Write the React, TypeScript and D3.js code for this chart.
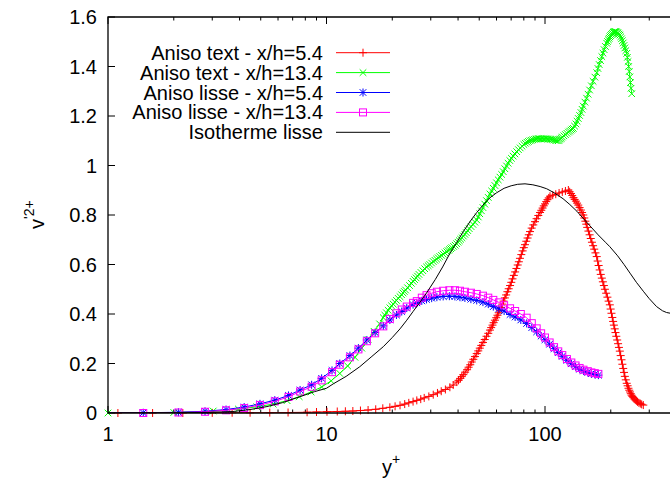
import React from "react";
import * as d3 from "d3";

// ---- Data (y+, v'2+) ----
const redYp = [1.11, 1.6, 2.2, 3.0, 3.7, 4.47, 5.5, 6.67, 8.15, 9.0, 10.05, 11.2, 12.2, 13.2, 14.3, 15.5, 16.8, 18.1, 19.5, 20.6, 21.7, 22.8, 23.8, 24.9, 25.9, 27.0, 28.0, 29.4, 30.8, 32.2, 33.5, 35.0, 36.7, 38.0,
  39.5, 40.2, 41.0, 41.6, 42.3, 43.1, 44.0, 44.7, 45.5, 46.2, 47.0, 47.8, 48.7, 49.5, 50.3, 51.1, 52.0, 53.0, 54.0, 55.0, 56.0, 56.7, 57.5, 58.2, 59.0, 59.8, 60.6, 61.4, 62.2, 63.0, 63.8, 64.6, 65.5, 66.4, 67.3, 68.2, 69.2, 70.1, 71.0, 72.0, 73.0, 74.0, 75.0, 75.9, 76.8, 77.9, 79.0, 80.0, 81.0, 82.1, 83.2, 84.3, 85.4, 86.9, 88.4, 90.0, 91.5, 93.2, 94.9, 96.2, 97.5, 98.7, 100.0, 101.3, 102.7, 104.0, 105.4, 108.5, 112.0, 116.0, 120.0, 124.0, 127.9, 129.7, 131.5, 133.2, 135.0, 136.7, 138.5, 140.2, 142.0, 144.0, 146.0, 147.8, 149.7, 151.3, 153.0, 154.5, 156.0, 158.0, 160.0, 162.0, 164.0, 166.0, 168.0, 170.2, 172.5, 174.2, 176.0, 178.0, 180.0, 182.0, 184.0, 186.0, 188.0, 190.5, 193.0, 195.5, 198.0, 199.7, 201.5, 203.2, 205.0, 206.7, 208.5, 210.2, 212.0, 214.0, 216.0, 218.0, 220.0, 222.0, 224.0, 226.0, 228.0, 230.0, 232.0, 234.3, 236.6, 238.8, 241.0, 243.0, 245.0, 247.0, 249.0, 251.2, 253.5, 256.2, 259.0, 262.0, 265.0, 269.0, 273.0, 277.0, 281.8];
const redV = [0.0, 0.0, 0.0, 0.0005, 0.001, 0.001, 0.0015, 0.002, 0.003, 0.004, 0.005, 0.006, 0.007, 0.008, 0.01, 0.012, 0.015, 0.019, 0.023, 0.027, 0.031, 0.036, 0.041, 0.046, 0.051, 0.056, 0.061, 0.067, 0.074, 0.081, 0.088, 0.095, 0.104, 0.113,
  0.125, 0.132, 0.14, 0.147, 0.155, 0.165, 0.175, 0.185, 0.195, 0.206, 0.217, 0.228, 0.24, 0.251, 0.262, 0.273, 0.285, 0.297, 0.31, 0.322, 0.335, 0.345, 0.355, 0.365, 0.375, 0.385, 0.395, 0.405, 0.415, 0.427, 0.44, 0.452, 0.465, 0.477, 0.49, 0.502, 0.515, 0.528, 0.542, 0.556, 0.57, 0.584, 0.598, 0.611, 0.625, 0.64, 0.655, 0.668, 0.68, 0.694, 0.707, 0.72, 0.733, 0.747, 0.76, 0.773, 0.785, 0.798, 0.81, 0.819, 0.828, 0.837, 0.845, 0.854, 0.862, 0.869, 0.876, 0.88, 0.884, 0.889, 0.893, 0.897, 0.901, 0.894, 0.887, 0.879, 0.87, 0.863, 0.856, 0.848, 0.84, 0.83, 0.82, 0.81, 0.8, 0.788, 0.775, 0.763, 0.75, 0.735, 0.72, 0.705, 0.69, 0.676, 0.662, 0.647, 0.632, 0.614, 0.596, 0.578, 0.56, 0.545, 0.53, 0.515, 0.5, 0.484, 0.468, 0.452, 0.437, 0.42, 0.403, 0.386, 0.37, 0.355, 0.34, 0.325, 0.31, 0.295, 0.28, 0.265, 0.25, 0.232, 0.215, 0.197, 0.18, 0.164, 0.148, 0.134, 0.12, 0.11, 0.1, 0.092, 0.085, 0.078, 0.072, 0.067, 0.062, 0.057, 0.053, 0.049, 0.045, 0.041, 0.038, 0.035, 0.032];

const greenYp = [1.0, 2.0, 3.03, 3.95, 4.8, 5.7, 6.6, 7.5, 8.5, 9.5, 10.5, 11.5, 12.5, 13.5, 14.5, 15.5, 16.5, 17.5,
  18.2, 18.5, 18.8, 19.15, 19.5, 19.85, 20.2, 20.55, 20.9, 21.3, 21.7, 22.05, 22.4, 22.7, 23.0, 23.5, 24.0, 24.45, 24.9, 25.3, 25.7, 26.1, 26.5, 27.05, 27.6, 28.15, 28.7, 29.2, 29.7, 30.25, 30.8, 31.35, 31.9, 32.45, 33.0, 33.6, 34.2, 34.85, 35.5, 36.0, 36.5, 37.0, 37.5, 38.15, 38.8, 39.4, 40.0, 40.55, 41.1, 41.7, 42.3, 42.95, 43.6, 44.3, 45.0, 45.9, 46.8, 47.75, 48.7, 49.5, 50.3, 51.15, 52.0, 53.0, 54.0, 55.0, 56.0, 57.0, 58.0, 59.0, 60.0, 61.1, 62.2, 63.3, 64.4, 65.5, 66.7, 67.8, 69.0, 70.2, 71.5, 72.8, 74.2, 75.6, 77.0, 78.5, 80.0, 81.3, 82.7, 84.0, 85.4, 86.7, 88.0, 89.5, 91.0, 92.2, 93.5, 94.7, 96.0, 97.5, 99.0, 100.4, 101.8, 103.4, 105.0, 106.5, 108.0, 109.7, 111.5, 113.2, 115.0, 116.2, 117.5, 118.7, 120.0, 122.0, 124.0, 126.0, 128.0, 129.7, 131.5, 133.1, 134.8, 136.6, 138.5, 140.2, 142.0, 144.0, 146.0, 147.8, 149.7, 152.3, 155.0, 157.5, 160.0, 163.0, 166.0, 169.2, 172.5, 174.7, 177.0, 179.5, 182.0, 184.2, 186.5, 189.0, 191.6, 193.3, 195.0, 196.5, 198.0, 199.7, 201.5, 203.5, 205.4, 207.0, 208.5, 210.2, 212.0, 214.0, 216.0, 218.2, 220.4, 222.2, 224.0, 226.0, 228.0, 230.0, 232.0, 234.3, 236.6, 238.3, 240.0, 241.5, 243.0, 244.5, 246.0, 247.7, 249.4];
const greenV = [0.0, 0.002, 0.008, 0.016, 0.025, 0.036, 0.05, 0.066, 0.085, 0.105, 0.13, 0.16, 0.19, 0.225, 0.262, 0.297, 0.33, 0.36,
  0.385, 0.395, 0.405, 0.415, 0.425, 0.433, 0.44, 0.448, 0.455, 0.463, 0.47, 0.478, 0.485, 0.491, 0.497, 0.506, 0.515, 0.524, 0.532, 0.539, 0.546, 0.553, 0.56, 0.568, 0.575, 0.583, 0.59, 0.595, 0.6, 0.606, 0.612, 0.617, 0.622, 0.627, 0.632, 0.637, 0.642, 0.647, 0.652, 0.656, 0.66, 0.664, 0.668, 0.673, 0.678, 0.684, 0.69, 0.696, 0.702, 0.708, 0.715, 0.722, 0.729, 0.737, 0.745, 0.753, 0.762, 0.771, 0.78, 0.792, 0.805, 0.817, 0.83, 0.844, 0.858, 0.871, 0.885, 0.897, 0.908, 0.919, 0.93, 0.942, 0.953, 0.964, 0.975, 0.987, 0.998, 1.009, 1.02, 1.029, 1.038, 1.047, 1.056, 1.064, 1.071, 1.078, 1.085, 1.09, 1.094, 1.097, 1.1, 1.102, 1.104, 1.106, 1.107, 1.108, 1.108, 1.108, 1.108, 1.108, 1.108, 1.108, 1.108, 1.107, 1.107, 1.106, 1.105, 1.103, 1.102, 1.101, 1.1, 1.104, 1.107, 1.111, 1.115, 1.12, 1.125, 1.13, 1.135, 1.139, 1.143, 1.147, 1.15, 1.159, 1.168, 1.179, 1.19, 1.202, 1.214, 1.227, 1.24, 1.256, 1.272, 1.288, 1.305, 1.322, 1.34, 1.357, 1.375, 1.392, 1.408, 1.424, 1.44, 1.454, 1.468, 1.481, 1.494, 1.501, 1.508, 1.514, 1.52, 1.525, 1.53, 1.534, 1.538, 1.54, 1.541, 1.541, 1.54, 1.538, 1.535, 1.531, 1.527, 1.52, 1.512, 1.504, 1.495, 1.485, 1.475, 1.464, 1.453, 1.437, 1.42, 1.4, 1.38, 1.358, 1.335, 1.312, 1.29];

const blueYp = [0.72, 1.45, 2.1, 2.78, 3.47, 4.2, 4.96, 5.8, 6.7, 7.57, 8.55, 9.5, 10.6, 11.5, 12.8, 14.0, 15.3, 16.7, 18.2, 19.5, 20.9, 22.1, 23.3, 24.9, 25.9, 27.3, 28.7, 30.3, 32.0, 34.2, 36.5, 38.7, 40.8, 43.0, 45.8, 48.7, 52.0, 55.0, 58.0, 61.5, 65.0, 69.2, 73.0, 77.5, 82.4, 87.0, 91.6, 96.0, 100.0, 105.0, 110.0, 115.0, 120.0, 126.0, 132.0, 138.0, 144.0, 150.0, 157.0, 163.0, 169.0, 175.5];
const blueV = [0.0, 0.001, 0.003, 0.007, 0.014, 0.024, 0.037, 0.052, 0.071, 0.093, 0.114, 0.14, 0.172, 0.2, 0.232, 0.262, 0.295, 0.325, 0.352, 0.376, 0.396, 0.41, 0.424, 0.438, 0.445, 0.453, 0.459, 0.464, 0.468, 0.471, 0.472, 0.471, 0.468, 0.465, 0.46, 0.455, 0.448, 0.44, 0.43, 0.421, 0.412, 0.398, 0.388, 0.376, 0.362, 0.345, 0.328, 0.311, 0.296, 0.278, 0.26, 0.244, 0.229, 0.213, 0.199, 0.187, 0.177, 0.17, 0.164, 0.159, 0.156, 0.153];

const magentaYp = [0.72, 1.45, 2.1, 2.78, 3.47, 4.2, 4.96, 5.8, 6.7, 7.57, 8.55, 9.5, 10.6, 11.5, 12.8, 14.0, 15.3, 16.7, 18.2, 19.5, 20.9, 22.1, 23.3, 24.9, 25.9, 27.3, 28.7, 30.3, 32.0, 34.2, 36.5, 38.7, 40.8, 43.0, 45.8, 48.7, 52.0, 55.0, 58.0, 61.5, 65.0, 69.2, 73.0, 77.5, 82.4, 87.0, 91.6, 96.0, 100.0, 105.0, 110.0, 115.0, 120.0, 126.0, 132.0, 138.0, 144.0, 150.0, 157.0, 163.0, 169.0, 175.5];
const magentaV = [0.0, 0.0, 0.002, 0.005, 0.011, 0.02, 0.032, 0.047, 0.065, 0.087, 0.106, 0.132, 0.165, 0.195, 0.225, 0.257, 0.29, 0.322, 0.35, 0.38, 0.403, 0.418, 0.43, 0.445, 0.452, 0.466, 0.476, 0.484, 0.49, 0.494, 0.496, 0.496, 0.494, 0.49, 0.486, 0.481, 0.474, 0.466, 0.457, 0.447, 0.435, 0.423, 0.412, 0.4, 0.385, 0.363, 0.342, 0.322, 0.305, 0.285, 0.266, 0.249, 0.234, 0.218, 0.204, 0.192, 0.182, 0.175, 0.169, 0.164, 0.161, 0.158];

const blackYp = [0.8, 1.0, 1.5, 2.0, 2.5, 3.0, 3.73, 4.47, 5.34, 6.3, 7.57, 8.8, 10.0, 10.75, 12.3, 14.2, 16.0, 18.2, 20.0, 21.7, 23.3, 24.9, 26.8, 28.7, 31.5, 34.0, 36.7, 39.5, 42.2, 45.5, 48.7, 52.0, 56.0, 60.1, 65.0, 70.0, 75.0, 81.0, 88.0, 95.0, 101.8, 110.0, 120.9, 130.0, 140.0, 149.0, 160.7, 175.0, 190.0, 198.0, 215.0, 230.0, 245.0, 262.0, 281.8, 300.0, 324.0, 345.0, 360.0, 380.0, 400.0, 430.0];
const blackV = [0.0, 0.0, 0.0005, 0.001, 0.002, 0.003, 0.006, 0.014, 0.026, 0.042, 0.066, 0.086, 0.1, 0.118, 0.148, 0.187, 0.226, 0.268, 0.305, 0.34, 0.375, 0.41, 0.448, 0.485, 0.54, 0.59, 0.645, 0.69, 0.732, 0.775, 0.81, 0.84, 0.87, 0.89, 0.908, 0.918, 0.924, 0.926, 0.922, 0.915, 0.906, 0.89, 0.866, 0.842, 0.815, 0.788, 0.756, 0.72, 0.688, 0.672, 0.635, 0.6, 0.565, 0.528, 0.492, 0.462, 0.43, 0.413, 0.406, 0.402, 0.401, 0.402];

const yTicks = [0, 0.2, 0.4, 0.6, 0.8, 1.0, 1.2, 1.4, 1.6];
const xMajorTicks = [1, 10, 100, 1000];
const xTickLabels = ["1", "10", "100", ""];
const legendLabels = [
  "Aniso text - x/h=5.4",
  "Aniso text - x/h=13.4",
  "Aniso lisse - x/h=5.4",
  "Aniso lisse - x/h=13.4",
  "Isotherme lisse",
];

type Series = { xs: number[]; ys: number[]; color: string; marker: string | null };
const series: Series[] = [
  { xs: redYp, ys: redV, color: "#ff0000", marker: "plus" },
  { xs: greenYp, ys: greenV, color: "#00ff00", marker: "cross" },
  { xs: blueYp, ys: blueV, color: "#0000ff", marker: "star" },
  { xs: magentaYp, ys: magentaV, color: "#ff00ff", marker: "square" },
  { xs: blackYp, ys: blackV, color: "#000000", marker: null },
];

const W = 670;
const H = 479;
const L = 108;
const T = 17;
const B = 413;
const R = 763.5;
const FONT = "'Liberation Sans', Arial, Helvetica, sans-serif";

function Marker({ kind, x, y, color }: { kind: string; x: number; y: number; color: string }) {
  const s = 4;
  const c = 3.3;
  if (kind === "plus") {
    return <path d={`M${x - s},${y}H${x + s}M${x},${y - s}V${y + s}`} stroke={color} strokeWidth={1} fill="none" />;
  }
  if (kind === "cross") {
    return <path d={`M${x - c},${y - c}L${x + c},${y + c}M${x - c},${y + c}L${x + c},${y - c}`} stroke={color} strokeWidth={1} fill="none" />;
  }
  if (kind === "star") {
    return (
      <path
        d={`M${x - s},${y}H${x + s}M${x},${y - s}V${y + s}M${x - c},${y - c}L${x + c},${y + c}M${x - c},${y + c}L${x + c},${y - c}`}
        stroke={color}
        strokeWidth={1}
        fill="none"
      />
    );
  }
  return <rect x={x - 3.5} y={y - 3.5} width={7} height={7} stroke={color} strokeWidth={1} fill="none" />;
}

export default function App() {
  const x = d3.scaleLog().domain([1, 1000]).range([L, R]);
  const y = d3.scaleLinear().domain([0, 1.6]).range([B, T]);
  const line = d3
    .line<[number, number]>()
    .x((d) => x(d[0]))
    .y((d) => y(d[1]));

  const minorTicks: number[] = [];
  [1, 10, 100].forEach((dec) => {
    for (let k = 2; k <= 9; k++) minorTicks.push(dec * k);
  });

  const legendX1 = 336;
  const legendX2 = 390;
  const legendY0 = 52.7;
  const legendDy = 19.9;

  return (
    <svg width={W} height={H} style={{ position: "absolute", left: 0, top: 0, background: "#fff" }} fontFamily={FONT}>
      <defs>
        <clipPath id="plotClip">
          <rect x={L} y={T} width={R - L} height={B - T} />
        </clipPath>
      </defs>
      <rect x={0} y={0} width={W} height={H} fill="#fff" />

      {/* ticks */}
      {yTicks.map((t) => (
        <g key={"yt" + t}>
          <line x1={L} x2={L + 7} y1={y(t)} y2={y(t)} stroke="#000" strokeWidth={1} />
          <text x={97} y={y(t)} dy="0.35em" textAnchor="end" fontSize={20}>
            {String(+t.toFixed(1))}
          </text>
        </g>
      ))}
      {xMajorTicks.map((t, i) => (
        <g key={"xt" + t}>
          <line x1={x(t)} x2={x(t)} y1={B} y2={B - 7} stroke="#000" strokeWidth={1} />
          <line x1={x(t)} x2={x(t)} y1={T} y2={T + 7} stroke="#000" strokeWidth={1} />
          {xTickLabels[i] && (
            <text x={x(t)} y={434} dy="0.35em" textAnchor="middle" fontSize={20}>
              {xTickLabels[i]}
            </text>
          )}
        </g>
      ))}
      {minorTicks.map((t) => (
        <g key={"xm" + t}>
          <line x1={x(t)} x2={x(t)} y1={B} y2={B - 3.5} stroke="#000" strokeWidth={1} />
          <line x1={x(t)} x2={x(t)} y1={T} y2={T + 3.5} stroke="#000" strokeWidth={1} />
        </g>
      ))}

      {/* series */}
      {series.map((s, si) => {
        const pts: [number, number][] = s.xs.map((v, i) => [v, s.ys[i]]);
        return (
          <g key={"s" + si}>
            <path d={line(pts) || ""} stroke={s.color} strokeWidth={1} fill="none" clipPath="url(#plotClip)" />
            {s.marker &&
              pts
                .filter((p) => p[0] >= 1)
                .map((p, i) => <Marker key={i} kind={s.marker as string} x={x(p[0])} y={y(p[1])} color={s.color} />)}
          </g>
        );
      })}

      {/* border */}
      <path d={`M${R},${T}H${L}V${B}H${R}`} stroke="#000" strokeWidth={1.3} fill="none" />

      {/* legend */}
      {legendLabels.map((lab, i) => {
        const ly = legendY0 + i * legendDy;
        const s = series[i];
        return (
          <g key={"lg" + i}>
            <text x={323} y={ly} dy="0.35em" textAnchor="end" fontSize={20}>
              {lab}
            </text>
            <line x1={legendX1} x2={legendX2} y1={ly} y2={ly} stroke={s.color} strokeWidth={1} />
            {s.marker && <Marker kind={s.marker} x={(legendX1 + legendX2) / 2} y={ly} color={s.color} />}
          </g>
        );
      })}

      {/* axis labels */}
      <text x={382} y={474} fontSize={20}>
        y
        <tspan dy={-10} fontSize={14}>
          +
        </tspan>
      </text>
      <text transform="translate(44,229) rotate(-90)" fontSize={20}>
        v
        <tspan dy={-10} fontSize={14}>
          '2+
        </tspan>
      </text>
    </svg>
  );
}
